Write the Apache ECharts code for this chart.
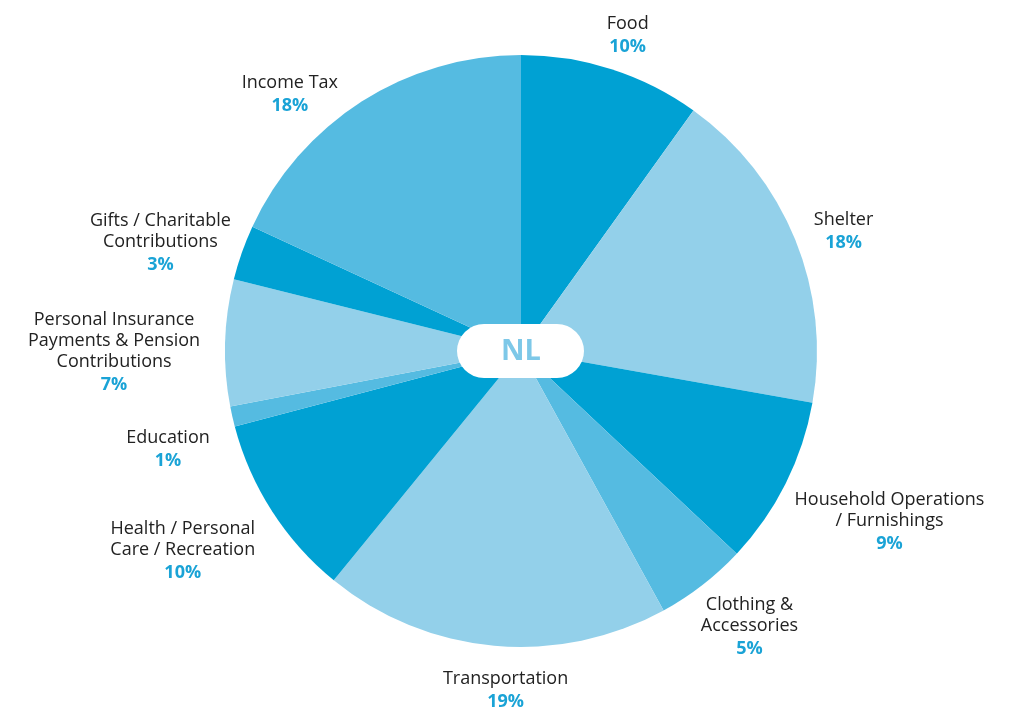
<!DOCTYPE html>
<html>
<head>
<meta charset="utf-8">
<script src="https://cdn.jsdelivr.net/npm/echarts@6/dist/echarts.min.js"></script>
<style>
  html, body { margin: 0; padding: 0; background: #fff; }
  #chart { width: 1011px; height: 708px; }
</style>
</head>
<body>
<div id="chart"></div>
<script>
const categories = [
  'Food', 'Shelter', 'Household Operations\n/ Furnishings', 'Clothing &\nAccessories',
  'Transportation', 'Health / Personal\nCare / Recreation', 'Education',
  'Personal Insurance\nPayments & Pension\nContributions', 'Gifts / Charitable\nContributions', 'Income Tax'
]
const shares = [9.9, 17.9, 9.2, 5.0, 18.9, 10.0, 1.1, 6.9, 3.0, 18.1]
const shareLabels = ['10%', '18%', '9%', '5%', '19%', '10%', '1%', '7%', '3%', '18%']
const sliceColors = ['#00a1d3', '#93d0ea', '#00a1d3', '#55bbe1', '#93d0ea', '#00a1d3', '#55bbe1', '#93d0ea', '#00a1d3', '#55bbe1']
const regionName = 'NL'

// hand nudges for the label placement, as in the original layout
const labelNudge = [[4, 5], [2, 12], [26, 0], [12, -2], [15, 7], [-26, 0], [-5, 20], [-7, 14], [6, 22], [-49, 29]]

const cx = 521, cy = 351, R = 296
const total = shares.reduce((a, b) => a + b, 0)
const font = 'Open Sans'

// mid angle of each slice, clockwise from top
function midAngle(i) {
  let before = 0
  for (let k = 0; k < i; k++) before += shares[k]
  return (before + shares[i] / 2) / total * Math.PI * 2
}

const chart = echarts.init(document.getElementById('chart'))

chart.setOption({
  animation: false,
  series: [{
    type: 'pie',
    center: [cx, cy],
    radius: [0, R],
    startAngle: 90,
    clockwise: true,
    data: categories.map((c, i) => ({
      name: c,
      value: shares[i],
      itemStyle: { color: sliceColors[i] },
      label: { formatter: '{n|' + c.split('\n').join('}\n{n|') + '}\n{p|' + shareLabels[i] + '}' }
    })),
    label: {
      show: true,
      position: 'outside',
      alignTo: 'none',
      overflow: 'none',
      align: 'center',
      rich: {
        n: { fontFamily: font, fontSize: 18, color: '#222', lineHeight: 21, align: 'center' },
        p: { fontFamily: font, fontSize: 18, fontWeight: 'bold', color: '#1aa3d6', lineHeight: 25, align: 'center' }
      }
    },
    labelLine: { show: false },
    labelLayout: function (p) {
      const i = p.dataIndex
      const a = midAngle(i)
      const dx = Math.sin(a), dy = -Math.cos(a)
      const w = p.labelRect.width, h = p.labelRect.height
      const ext = Math.min(w / 2 / Math.max(Math.abs(dx), 1e-6), h / 2 / Math.max(Math.abs(dy), 1e-6))
      const d = R + 18 + ext
      return { x: cx + dx * d + labelNudge[i][0], y: cy + dy * d + labelNudge[i][1], align: 'center', verticalAlign: 'middle' }
    },
    emphasis: { disabled: true }
  }],
  graphic: [
    { type: 'rect', z: 10, shape: { x: cx - 64, y: cy - 27, width: 127, height: 54, r: 27 }, style: { fill: '#fff' } },
    { type: 'text', z: 11, x: cx, y: cy + 1,
      style: { text: regionName, font: 'bold 29px "Open Sans"', fill: '#7dc8e8', align: 'center', verticalAlign: 'middle' } }
  ]
})
</script>
</body>
</html>
